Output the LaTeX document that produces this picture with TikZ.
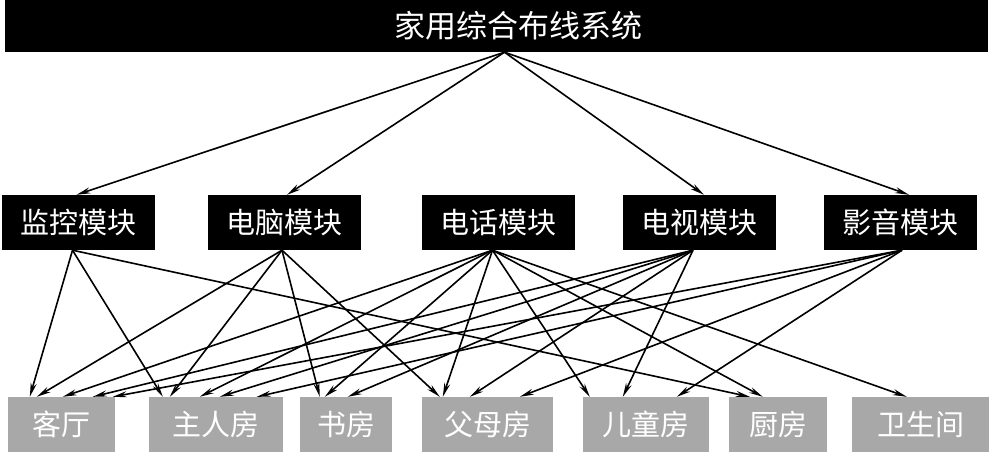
\documentclass[tikz,border=0pt]{standalone}
\usepackage{fontspec}
\setmainfont{Noto Sans CJK SC}
\usetikzlibrary{arrows.meta}

\begin{document}
\begin{tikzpicture}[x=1pt,y=-1pt,
  topbox/.style={fill=black,text=white,inner sep=0pt,minimum height=52pt,font=\fontsize{31}{33}\selectfont},
  modbox/.style={fill=black,text=white,inner sep=0pt,minimum height=55pt,minimum width=153pt,font=\fontsize{29}{31}\selectfont},
  roombox/.style={fill=black!34,text=white,inner sep=0pt,minimum height=55pt,font=\fontsize{29}{31}\selectfont},
  arr/.style={line width=1.6pt,-{Stealth[length=14pt,width=6pt]}}]
\useasboundingbox (0,0) rectangle (990,460);
% top
\node[topbox,minimum width=983pt] (sys) at (496.5,26) {\hspace{44pt}家用综合布线系统};
% modules
\node[modbox] (jk) at (78.5,222.5) {监控模块};
\node[modbox] (dn) at (284,222.5) {电脑模块};
\node[modbox] (dh) at (498.5,222.5) {电话模块};
\node[modbox] (ds) at (699,222.5) {电视模块};
\node[modbox] (yy) at (900,222.5) {影音模块};
% rooms
\node[roombox,minimum width=107pt] (kt) at (61.5,424.5) {客厅};
\node[roombox,minimum width=134pt] (zr) at (216,424.5) {主人房};
\node[roombox,minimum width=92pt] (sf) at (346,424.5) {书房};
\node[roombox,minimum width=131pt] (fm) at (487.5,424.5) {父母房};
\node[roombox,minimum width=126pt] (et) at (646,424.5) {儿童房};
\node[roombox,minimum width=98pt] (cf) at (778,424.5) {厨房};
\node[roombox,minimum width=137pt] (ws) at (920.5,424.5) {卫生间};
% system to modules
\foreach \m/\dx in {jk/-2,dn/3,ds/5,yy/9}
    \draw[arr] ([xshift=8pt]sys.south) -- ([xshift=\dx pt]\m.north);
% modules to rooms
\foreach \r/\dx in {kt/22,zr/14,cf/21}
    \draw[arr] ([xshift=-6pt]jk.south) -- ([xshift=\dx pt]\r.north west);
\foreach \r/\dx in {kt/29,zr/21,sf/20,fm/18}
    \draw[arr] ([xshift=-2pt]dn.south) -- ([xshift=\dx pt]\r.north west);
\foreach \r/\dx in {kt/55,zr/51,sf/25,fm/21,et/7,cf/34,ws/55}
    \draw[arr] ([xshift=-6pt]dh.south) -- ([xshift=\dx pt]\r.north west);
\foreach \r/\dx in {kt/85,zr/71,sf/48,fm/48,et/40}
    \draw[arr] ([xshift=-6pt]ds.south) -- ([xshift=\dx pt]\r.north west);
\foreach \r/\dx in {kt/105,zr/108,fm/98,et/94}
    \draw[arr] ([xshift=2pt]yy.south) -- ([xshift=\dx pt]\r.north west);
\end{tikzpicture}
\end{document}
